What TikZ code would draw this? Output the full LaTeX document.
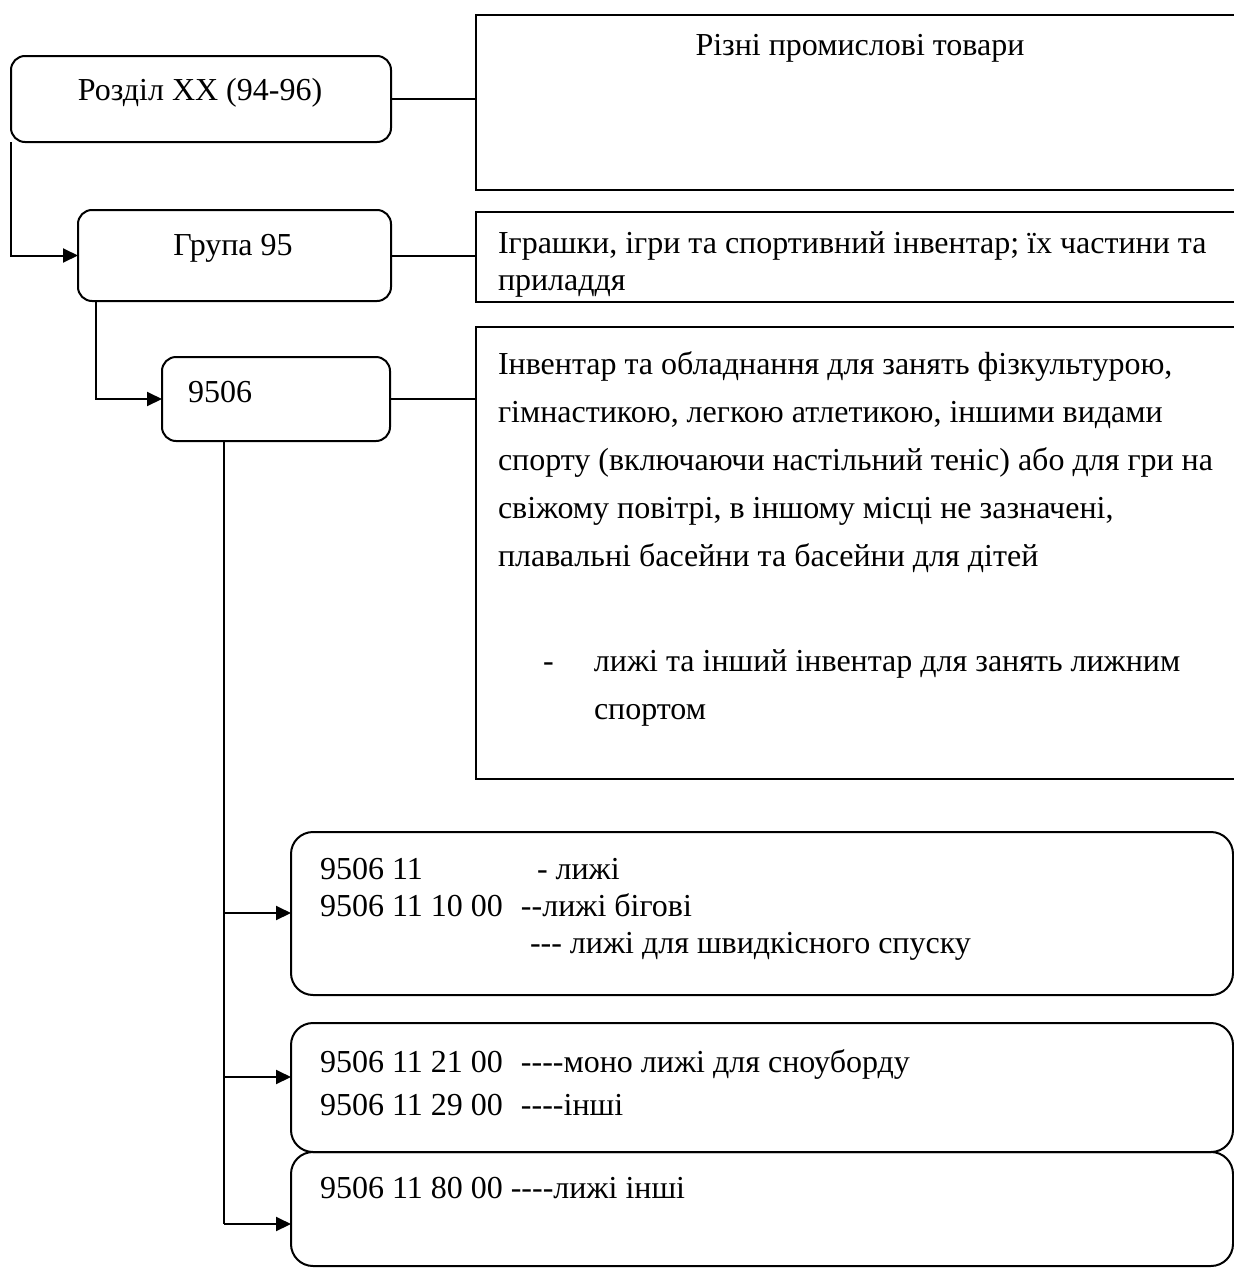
\documentclass[tikz,border=0pt]{standalone}
\usepackage{fontspec}
\setmainfont{Liberation Serif}[Ligatures=TeXOff]
\usetikzlibrary{arrows.meta}
\tikzstyle{rbox} = [draw, rectangle, rounded corners=7pt, anchor=north west, inner sep=0pt, outer sep=0pt]
\tikzstyle{sbox} = [draw, rectangle, anchor=north west, inner sep=0pt, outer sep=0pt, minimum width=400pt]
\tikzstyle{cbox} = [draw, rectangle, rounded corners=11pt, anchor=north west, inner sep=0pt, outer sep=0pt, minimum width=471pt]
\tikzstyle{txt} = [inner sep=0pt, anchor=base west]
\tikzstyle{arr} = [-{Triangle[length=7.5pt,width=7pt]}]

\begin{document}
\begin{tikzpicture}[x=0.5pt, y=-0.5pt, line width=1pt,
    font=\fontsize{16pt}{18.5pt}\selectfont]

    \useasboundingbox (0,0) rectangle (1234,1269);
    \clip (0,0) rectangle (1234,1269);

    % left column
    \node [rbox, minimum width=190pt, minimum height=43pt, name = r20] at (11,56) {};
    \node [rbox, minimum width=156.5pt, minimum height=45.5pt, name = g95] at (78,210) {};
    \node [rbox, minimum width=114pt, minimum height=42pt, name = b9506] at (162,357) {};

    \node [txt, anchor=base, name = t20] at (200,100) {Розділ XX (94-96)};
    \node [txt, anchor=base, name = t95] at (233,255) {Група 95};
    \node [txt, name = t9506] at (187,402) {9506};

    % right column
    \node [sbox, minimum height=87.5pt, name = ra] at (476,15) {};
    \node [sbox, minimum height=45pt, name = rb] at (476,212) {};
    \node [sbox, minimum height=226pt, name = rc] at (476,327) {};

    \node [txt, anchor=base, name = ta] at (860,55) {Різні промислові товари};
    \node [txt, name = tb] at (497,253) {\begin{tabular}[t]{@{}l@{}}
        Іграшки, ігри та спортивний інвентар; їх частини та\\
        приладдя\end{tabular}};
    \node [txt, name = tc] at (497,374) {\begin{tabular}[t]{@{}l@{}}
        Інвентар та обладнання для занять фізкультурою,\\[5.5pt]
        гімнастикою, легкою атлетикою, іншими видами\\[5.5pt]
        спорту (включаючи настільний теніс) або для гри на\\[5.5pt]
        свіжому повітрі, в іншому місці не зазначені,\\[5.5pt]
        плавальні басейни та басейни для дітей\\[34pt]
        \hspace*{22.5pt}\makebox[25.5pt][l]{-}лижі та інший інвентар для занять лижним\\[5.5pt]
        \hspace*{48pt}спортом\end{tabular}};

    % bottom boxes
    \node [cbox, minimum height=81.5pt, name = ba] at (291,832) {};
    \node [cbox, minimum height=64.5pt, name = bb] at (291,1023) {};
    \node [cbox, minimum height=57pt, name = bc] at (291,1152) {};

    \node [txt, name = tba] at (319,879) {\begin{tabular}[t]{@{}l@{}}
        \makebox[100.5pt][l]{9506 11}\hspace*{8pt}- лижі\\
        \makebox[100.5pt][l]{9506 11 10 00}--лижі бігові\\
        \hspace*{105pt}--- лижі для швидкісного спуску\end{tabular}};
    \node [txt, name = tbb] at (319,1072) {\begin{tabular}[t]{@{}l@{}}
        \makebox[100.5pt][l]{9506 11 21 00}----моно лижі для сноуборду\\[3pt]
        \makebox[100.5pt][l]{9506 11 29 00}----інші\end{tabular}};
    \node [txt, name = tbc] at (319,1198) {9506 11 80 00 ----лижі інші};

    \coordinate (ka) at (224,913);
    \coordinate (kb) at (224,1077);
    \coordinate (kc) at (224,1224);

    % connectors
    \draw [arr] (r20.south west) -- (r20.south west |- g95.west) -- (g95.west);
    \draw [arr] ([xshift=9pt]g95.south west) -- ([xshift=9pt]g95.south west |- b9506.west) -- (b9506.west);
    \draw (r20.east) -- (r20.east -| ra.west);
    \draw (g95.east) -- (g95.east -| rb.west);
    \draw (b9506.east) -- (b9506.east -| rc.west);
    \draw ([xshift=31pt]b9506.south west) -- (kc);
    \draw [arr] (ka) -- (ka -| ba.west);
    \draw [arr] (kb) -- (kb -| bb.west);
    \draw [arr] (kc) -- (kc -| bc.west);

\end{tikzpicture}
\end{document}
